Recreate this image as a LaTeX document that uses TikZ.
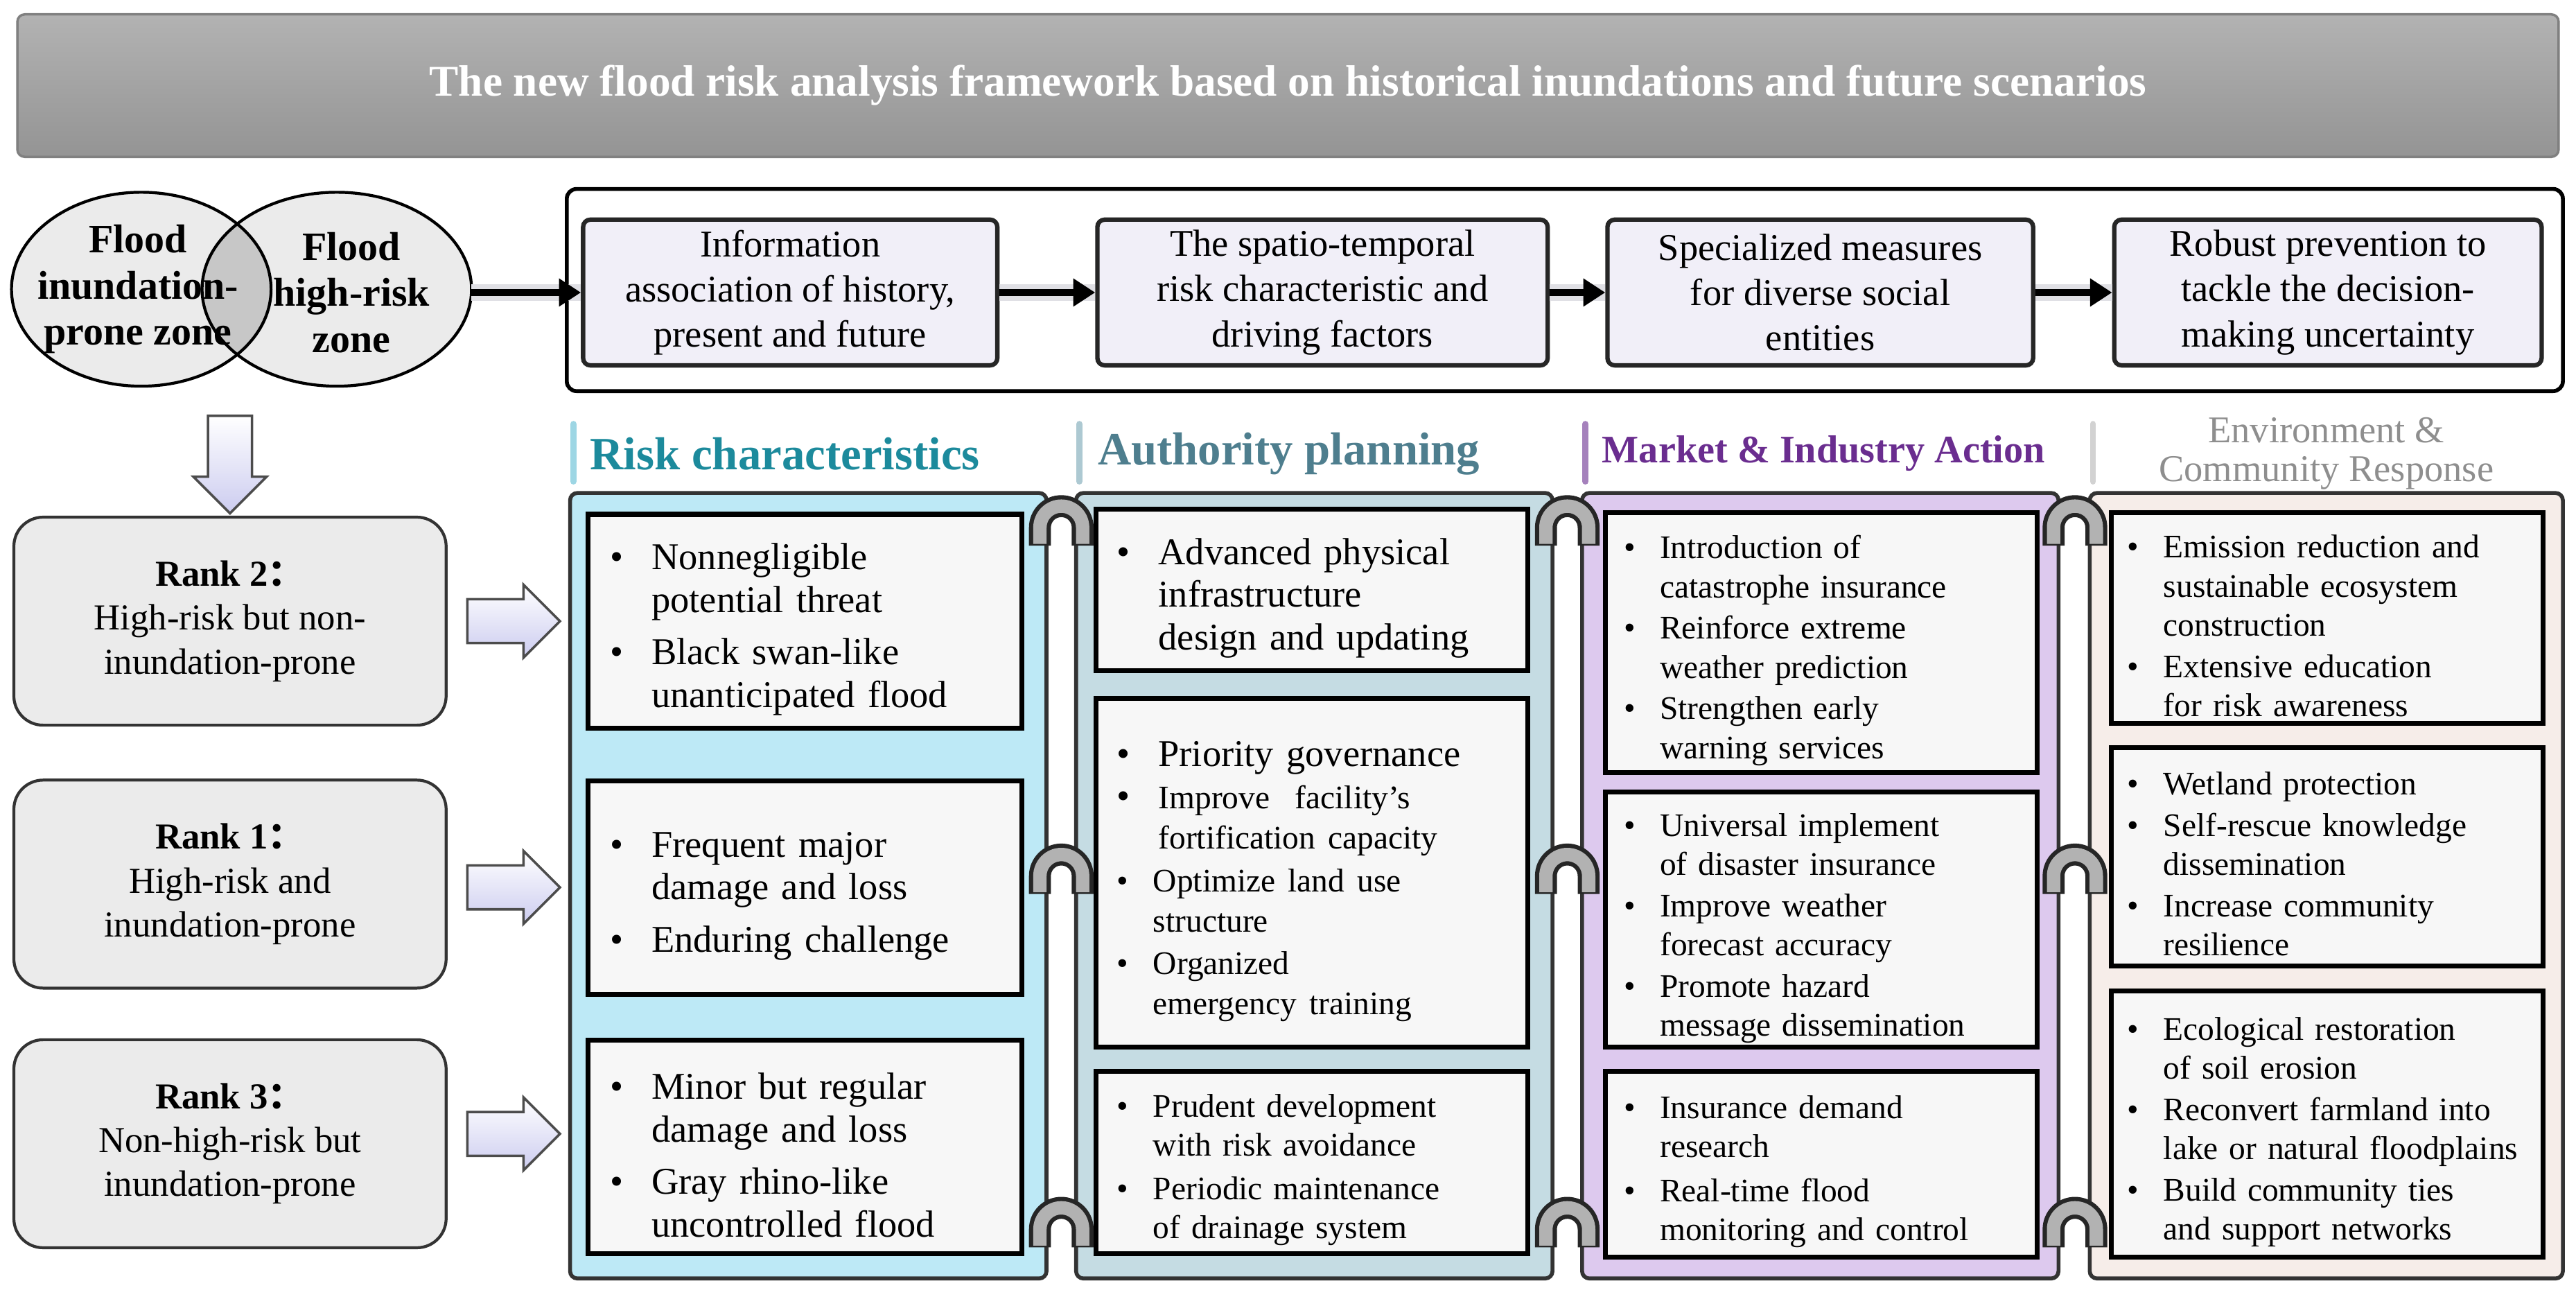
\documentclass[tikz,border=0pt]{standalone}
\usepackage{fontspec}
\setmainfont{Liberation Serif}
\newfontfamily\cjk{Noto Sans CJK SC}
\usetikzlibrary{shapes.arrows,arrows.meta,shadows}
\definecolor{rc}{HTML}{1C8A9C}
\definecolor{ap}{HTML}{4E7E8E}
\definecolor{mi}{HTML}{6A2D8F}
\definecolor{ec}{HTML}{8E8E8E}
\definecolor{c1}{HTML}{BDE9F6}
\definecolor{c2}{HTML}{C5DCE3}
\definecolor{c3}{HTML}{DDC9EE}
\definecolor{c4}{HTML}{F6EDE9}
\definecolor{lav}{HTML}{F1EFF8}
\newcommand{\itm}[1]{\par\hangindent=1.1em\hangafter=1\noindent\makebox[1.1em][l]{\textbullet}#1\par}
\newcommand{\gap}{\vspace{4pt}}
\tikzset{
 x=0.0237cm,y=-0.0237cm,
 col/.style={draw=black!80,line width=1.6pt,rounded corners=3pt},
 ibox/.style={draw=black,line width=2pt,fill=white!97!black,drop shadow={opacity=0.3,shadow xshift=1pt,shadow yshift=-1pt}},
 txt/.style={inner sep=0pt,anchor=center},
 rank/.style={draw=black!80,line width=1.2pt,rounded corners=12pt,fill=black!8,align=center,font=\fontsize{15}{18}\selectfont,minimum width=264*0.672pt,minimum height=127*0.672pt},
 top/.style={draw=black!85,line width=1.8pt,rounded corners=3pt,fill=lav,align=center,font=\fontsize{15.5}{18.5}\selectfont,minimum height=89*0.672pt},
 harr/.style={line width=3pt,-{Triangle[length=9pt,width=11pt]}},
 barr/.style={single arrow,draw=black!70,line width=1pt,top color=white,bottom color=black!30!blue!20,single arrow head extend=5pt,inner sep=7pt,minimum height=38pt,minimum width=30pt},
 hd/.style={anchor=west,font=\bfseries\fontsize{19}{21}\selectfont},
}
\newcommand{\hook}[2]{%
 \draw[line width=9pt,black!85] (#1-13,#2+26) -- (#1-13,#2+15) arc(180:360:13) -- (#1+13,#2+26);
 \draw[line width=5.5pt,black!30] (#1-13,#2+25) -- (#1-13,#2+15) arc(180:360:13) -- (#1+13,#2+25);}
\begin{document}
\begin{tikzpicture}
\useasboundingbox (0,0) rectangle (1568,789);
% title
\node[draw=black!50,line width=1pt,rounded corners=3pt,top color=black!30,bottom color=black!42,minimum width=1552*0.672pt,minimum height=87*0.672pt,text=white,font=\bfseries\fontsize{18}{20}\selectfont] (title) at (784,8) [anchor=north] {The new flood risk analysis framework based on historical inundations and future scenarios};
% venn
\fill[black!8] (86,176) ellipse (79 and 59);
\fill[black!8] (205,176) ellipse (82 and 59);
\begin{scope}\clip (86,176) ellipse (79 and 59); \fill[black!22] (205,176) ellipse (82 and 59);\end{scope}
\draw[line width=1.2pt] (86,176) ellipse (79 and 59);
\draw[line width=1.2pt] (205,176) ellipse (82 and 59);
\node[align=center,font=\bfseries\fontsize{16.5}{19}\selectfont] (v1) at (84,176) {Flood\\inundation-\\prone zone};
\node[align=center,font=\bfseries\fontsize{16.5}{19}\selectfont] (v2) at (214,178) {Flood\\high-risk\\zone};
\coordinate (vr) at (287,178);
% top container
\draw[line width=1.6pt,rounded corners=4pt] (345,115) rectangle (1560,238);
\node[top,minimum width=253*0.672pt] (t1) at (481,178) {Information\\association of history,\\present and future};
\node[top,minimum width=275*0.672pt] (t2) at (805,178) {The spatio-temporal\\risk characteristic and\\driving factors};
\node[top,minimum width=260*0.672pt] (t3) at (1108,178) {Specialized measures\\for diverse social\\entities};
\node[top,minimum width=261*0.672pt] (t4) at (1417,178) {Robust prevention to\\tackle the decision-\\making uncertainty};
\foreach \a/\b in {vr/t1,t1/t2,t2/t3,t3/t4}{
 \draw[line width=7pt,blue!15!black!12] (\a.east) -- (\b.west);
 \draw[harr] (\a.east) -- (\b.west);}
% down arrow
\node[barr,shading angle=0,rotate=-90,minimum height=40pt] (da) at (140,276) {};
% ranks
\node[rank] (r2) at (140,378) {\textbf{Rank 2{\cjk ：}}\\High-risk but non-\\inundation-prone};
\node[rank] (r1) at (140,538) {\textbf{Rank 1{\cjk ：}}\\High-risk and\\inundation-prone};
\node[rank] (r3) at (140,696) {\textbf{Rank 3{\cjk ：}}\\Non-high-risk but\\inundation-prone};
\foreach \y/\n in {378/a2,540/a1,690/a3}
 \node[barr] (\n) at (306,\y) {};
% headers
\foreach \x/\c in {349/c1!80!rc,657/c2!80!ap,965/mi!60,1274/ec!40}
 \draw[line width=2.5pt,\c,line cap=round] (\x,258) -- (\x,293);
\node[hd,text=rc] (h1) at (354,276) {Risk characteristics};
\node[hd,text=ap] (h2) at (663,276) {Authority planning};
\node[hd,text=mi,font=\bfseries\fontsize{16}{18}\selectfont] (h3) at (970,276) {Market \& Industry Action};
\node[text=ec,align=center,font=\fontsize{15.5}{16}\selectfont] (h4) at (1416,276) {Environment \&\\Community Response};
% columns
\draw[col,fill=c1] (347,300) rectangle (637,778);
\draw[col,fill=c2] (655,300) rectangle (945,778);
\draw[col,fill=c3] (963,300) rectangle (1253,778);
\draw[col,fill=c4] (1272,300) rectangle (1560,778);
% col1 boxes
\foreach \t/\b in {313/443,475/605,633/763} \draw[ibox] (358,\t) rectangle (622,\b);
\node[txt,text width=160pt,font=\fontsize{15.5}{17.5}\selectfont] (b11) at (490,378) {\itm{Nonnegligible\newline potential threat}\gap\itm{Black swan-like\newline unanticipated flood}};
\node[txt,text width=160pt,font=\fontsize{15.5}{17.5}\selectfont] (b12) at (490,540) {\itm{Frequent major\newline damage and loss}\gap\itm{Enduring challenge}};
\node[txt,text width=160pt,font=\fontsize{15.5}{17.5}\selectfont] (b13) at (490,698) {\itm{Minor but regular\newline damage and loss}\gap\itm{Gray rhino-like\newline uncontrolled flood}};
% col2 boxes
\draw[ibox] (667,310) rectangle (930,408);
\draw[ibox] (667,425) rectangle (930,637);
\draw[ibox] (667,652) rectangle (930,763);
\node[txt,text width=162pt,font=\fontsize{15.5}{17.5}\selectfont] (b21) at (800,359) {\itm{Advanced physical\newline infrastructure\newline design and updating}};
\node[txt,text width=162pt,font=\fontsize{15.5}{17.5}\selectfont] (b22) at (800,531) {\itm{Priority governance}\vspace{1pt}\itm{\fontsize{13.5}{16.5}\selectfont Improve\ \ facility's\newline fortification capacity}\vspace{1pt}\itm{Optimize land use\newline structure}\vspace{1pt}\itm{Organized\newline emergency training}};
\node[txt,text width=162pt,font=\fontsize{13.5}{16}\selectfont] (b23) at (800,707) {\itm{Prudent development\newline with risk avoidance}\vspace{2pt}\itm{Periodic maintenance\newline of drainage system}};
% col3 boxes
\draw[ibox] (977,312) rectangle (1240,470);
\draw[ibox] (977,482) rectangle (1240,637);
\draw[ibox] (977,652) rectangle (1240,765);
\node[txt,text width=164pt,font=\fontsize{13.5}{16}\selectfont] (b31) at (1110,391) {\itm{Introduction of\newline catastrophe insurance}\vspace{1pt}\itm{Reinforce extreme\newline weather prediction}\vspace{1pt}\itm{Strengthen early\newline warning services}};
\node[txt,text width=164pt,font=\fontsize{13.5}{16}\selectfont] (b32) at (1110,560) {\itm{Universal implement\newline of disaster insurance}\vspace{1pt}\itm{Improve weather\newline forecast accuracy}\vspace{1pt}\itm{Promote hazard\newline message dissemination}};
\node[txt,text width=164pt,font=\fontsize{13.5}{16}\selectfont] (b33) at (1110,708) {\itm{Insurance demand\newline research}\vspace{2pt}\itm{Real-time flood\newline monitoring and control}};
% col4 boxes
\draw[ibox] (1285,312) rectangle (1548,440);
\draw[ibox] (1285,455) rectangle (1548,588);
\draw[ibox] (1285,603) rectangle (1548,765);
\node[txt,text width=166pt,font=\fontsize{13.5}{16}\selectfont] (b41) at (1418,376) {\itm{Emission reduction and\newline sustainable ecosystem\newline construction}\vspace{1pt}\itm{Extensive education\newline for risk awareness}};
\node[txt,text width=166pt,font=\fontsize{13.5}{16}\selectfont] (b42) at (1418,521) {\itm{Wetland protection}\vspace{1pt}\itm{Self-rescue knowledge\newline dissemination}\vspace{1pt}\itm{Increase community\newline resilience}};
\node[txt,text width=166pt,font=\fontsize{13.5}{16}\selectfont] (b43) at (1418,684) {\itm{Ecological restoration\newline of soil erosion}\vspace{1pt}\itm{Reconvert farmland into\newline lake or natural floodplains}\vspace{1pt}\itm{Build community ties\newline and support networks}};
% hooks
\foreach \x in {646,954,1263} \foreach \y in {306,518,733} {\hook{\x}{\y}}
\end{tikzpicture}
\end{document}
